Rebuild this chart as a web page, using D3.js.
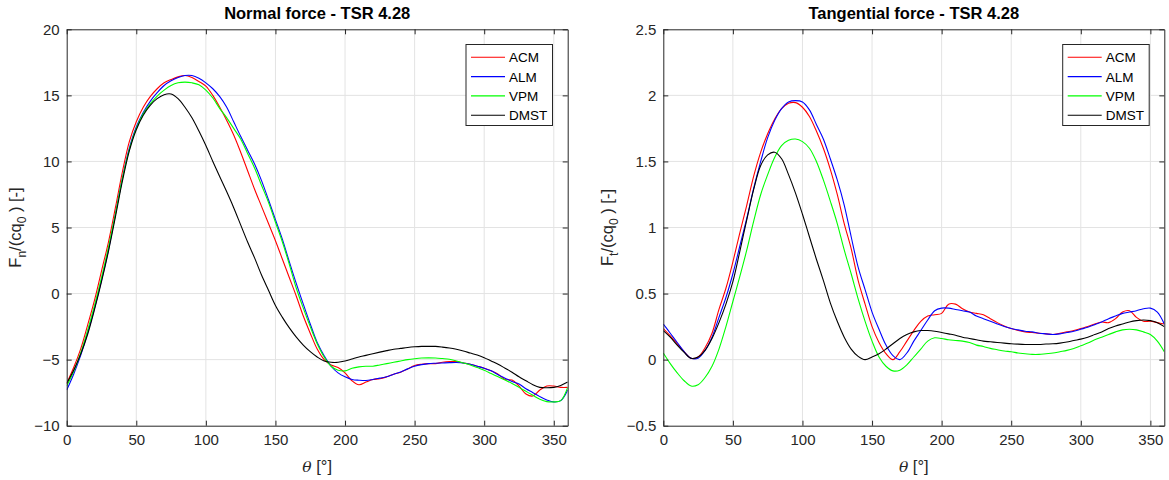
<!DOCTYPE html>
<html><head><meta charset="utf-8">
<script src="https://cdn.jsdelivr.net/npm/d3@7"></script>
<style>
body{margin:0;background:#fff;}
svg{display:block;font-family:"Liberation Sans",Arial,Helvetica,sans-serif;}
</style></head>
<body>
<svg id="chart" width="1169" height="480"></svg>
<script>
// ---- data ----
const theta = [0,5,10,15,20,25,30,35,40,45,50,55,60,65,70,75,80,85,90,95,100,105,110,115,120,125,130,135,140,145,150,155,160,165,170,175,180,185,190,195,200,205,210,215,220,225,230,235,240,245,250,255,260,265,270,275,280,285,290,295,300,305,310,315,320,325,330,335,340,345,350,355,360];
const seriesNames = ["ACM","ALM","VPM","DMST"];
const seriesColors = ["#ff0000","#0000ff","#00ff00","#000000"];

const normalACM = [-6.8,-5.6,-4.2,-2.4,-0.5,1.7,3.9,6.5,9.2,11.5,13.0,14.1,14.9,15.5,15.95,16.2,16.4,16.5,16.35,16.05,15.7,15.0,14.1,13.1,12.0,10.7,9.3,7.9,6.6,5.3,4.0,2.6,1.2,-0.2,-1.7,-3.0,-4.2,-5.0,-5.4,-5.6,-6.0,-6.6,-6.9,-6.7,-6.5,-6.45,-6.3,-6.1,-5.95,-5.7,-5.45,-5.35,-5.3,-5.3,-5.2,-5.15,-5.15,-5.25,-5.35,-5.5,-5.65,-5.85,-6.1,-6.5,-6.55,-7.0,-7.6,-7.75,-7.3,-7.0,-7.0,-7.1,-7.1];
const normalALM = [-7.3,-6.1,-4.7,-3.0,-1.1,1.0,3.3,6.0,8.7,11.0,12.6,13.7,14.55,15.2,15.75,16.1,16.35,16.5,16.5,16.3,15.95,15.5,14.9,14.1,13.0,11.9,10.85,9.8,8.55,7.1,5.6,4.1,2.4,0.75,-0.8,-2.3,-3.7,-4.7,-5.5,-6.0,-6.3,-6.5,-6.56,-6.58,-6.5,-6.4,-6.3,-6.1,-5.93,-5.7,-5.5,-5.38,-5.3,-5.27,-5.25,-5.23,-5.22,-5.25,-5.35,-5.5,-5.65,-5.85,-6.15,-6.4,-6.65,-6.85,-7.2,-7.5,-7.8,-8.05,-8.2,-8.1,-7.3];
const normalVPM = [-7.0,-5.9,-4.5,-2.8,-0.9,1.2,3.5,6.0,8.7,10.9,12.5,13.6,14.35,14.95,15.4,15.75,15.95,16.0,15.95,15.8,15.4,14.8,14.0,13.3,12.5,11.7,10.6,9.5,8.2,6.9,5.4,3.9,2.2,0.4,-1.1,-2.5,-3.8,-4.8,-5.5,-5.8,-5.85,-5.65,-5.55,-5.5,-5.5,-5.4,-5.3,-5.2,-5.1,-5.0,-4.93,-4.88,-4.87,-4.88,-4.92,-4.97,-5.1,-5.25,-5.4,-5.6,-5.8,-6.05,-6.3,-6.55,-6.8,-7.1,-7.4,-7.7,-8.0,-8.18,-8.2,-8.1,-7.1];
const normalDMST = [-6.8,-5.8,-4.6,-3.1,-1.2,0.9,3.2,5.8,8.5,10.8,12.4,13.5,14.25,14.75,15.05,15.1,14.75,14.1,13.3,12.3,11.2,10.0,8.84,7.7,6.5,5.2,3.9,2.7,1.4,0.25,-0.9,-1.8,-2.6,-3.3,-3.9,-4.4,-4.8,-5.1,-5.2,-5.2,-5.1,-4.95,-4.8,-4.68,-4.55,-4.43,-4.32,-4.22,-4.15,-4.08,-4.03,-4.0,-4.0,-4.0,-4.05,-4.12,-4.22,-4.35,-4.5,-4.65,-4.85,-5.1,-5.35,-5.65,-5.95,-6.3,-6.6,-6.9,-7.1,-7.13,-7.1,-6.95,-6.7];

const tangACM = [0.235,0.18,0.12,0.06,0.01,0.02,0.09,0.2,0.38,0.54,0.74,0.96,1.17,1.39,1.57,1.71,1.82,1.9,1.94,1.945,1.91,1.84,1.73,1.6,1.44,1.25,1.03,0.84,0.6,0.42,0.25,0.13,0.045,0.0,0.06,0.14,0.22,0.29,0.33,0.34,0.35,0.42,0.42,0.385,0.36,0.35,0.34,0.31,0.28,0.255,0.235,0.22,0.21,0.205,0.2,0.195,0.19,0.2,0.21,0.22,0.235,0.25,0.27,0.285,0.28,0.31,0.36,0.37,0.32,0.29,0.29,0.28,0.27];
const tangALM = [0.27,0.2,0.13,0.06,0.01,0.01,0.07,0.17,0.32,0.47,0.65,0.86,1.07,1.3,1.5,1.68,1.81,1.9,1.95,1.96,1.95,1.89,1.78,1.67,1.52,1.36,1.17,0.93,0.7,0.53,0.36,0.23,0.11,0.03,0.0,0.05,0.14,0.22,0.3,0.37,0.39,0.39,0.38,0.37,0.36,0.33,0.31,0.29,0.27,0.25,0.235,0.225,0.215,0.21,0.2,0.195,0.19,0.195,0.205,0.215,0.23,0.245,0.265,0.285,0.31,0.33,0.35,0.36,0.37,0.385,0.39,0.36,0.27];
const tangVPM = [0.05,-0.03,-0.1,-0.16,-0.2,-0.19,-0.135,-0.05,0.08,0.25,0.44,0.63,0.83,1.05,1.25,1.4,1.53,1.62,1.66,1.67,1.65,1.6,1.5,1.36,1.2,1.03,0.83,0.65,0.46,0.29,0.14,0.02,-0.05,-0.085,-0.08,-0.04,0.02,0.08,0.14,0.165,0.16,0.15,0.145,0.14,0.13,0.11,0.1,0.085,0.075,0.065,0.06,0.05,0.045,0.04,0.04,0.045,0.05,0.06,0.07,0.085,0.105,0.125,0.15,0.17,0.19,0.21,0.225,0.23,0.225,0.21,0.19,0.14,0.06];
const tangDMST = [0.22,0.17,0.11,0.055,0.01,0.02,0.07,0.16,0.28,0.42,0.59,0.82,1.06,1.29,1.47,1.55,1.57,1.52,1.4,1.26,1.1,0.93,0.76,0.6,0.43,0.29,0.17,0.08,0.025,0.0,0.02,0.045,0.08,0.12,0.16,0.19,0.21,0.22,0.22,0.215,0.205,0.195,0.185,0.17,0.16,0.15,0.14,0.135,0.13,0.125,0.12,0.117,0.115,0.115,0.115,0.118,0.12,0.125,0.133,0.145,0.155,0.17,0.19,0.21,0.235,0.255,0.27,0.285,0.295,0.3,0.295,0.28,0.25];

const xTicks = [0,50,100,150,200,250,300,350];
const yTicksNormal = [-10,-5,0,5,10,15,20];
const yTicksTang = [-0.5,0,0.5,1,1.5,2,2.5];

// ---- drawing ----
const svg = d3.select("#chart");
const txt = "#262626";

function drawPanel(opt){
  const {left, right, top, bottom, ydom, yTicks, series, title, ysub, legendX, ylabelX} = opt;
  const x = d3.scaleLinear().domain([0,360]).range([left,right]);
  const y = d3.scaleLinear().domain(ydom).range([bottom,top]);
  const g = svg.append("g");

  // grid
  g.append("g").selectAll("line").data(xTicks.filter(t=>t>0)).join("line")
    .attr("x1",d=>x(d)).attr("x2",d=>x(d)).attr("y1",top).attr("y2",bottom)
    .attr("stroke","#e3e3e3").attr("stroke-width",1);
  g.append("g").selectAll("line").data(yTicks.filter((t,i)=>i>0&&i<yTicks.length-1)).join("line")
    .attr("x1",left).attr("x2",right).attr("y1",d=>y(d)).attr("y2",d=>y(d))
    .attr("stroke","#e3e3e3").attr("stroke-width",1);

  // curves
  const line = d3.line().x((d,i)=>x(theta[i])).y(d=>y(d)).curve(d3.curveCatmullRom.alpha(0.5));
  const clipId = "clip"+Math.round(left);
  svg.append("clipPath").attr("id",clipId).append("rect")
    .attr("x",left).attr("y",top).attr("width",right-left).attr("height",bottom-top);
  const cg = g.append("g").attr("clip-path",`url(#${clipId})`);
  series.forEach((s,i)=>{
    cg.append("path").datum(s).attr("d",line).attr("fill","none")
      .attr("stroke",seriesColors[i]).attr("stroke-width",1.1);
  });

  // axes (box with ticks on all sides)
  const axB = d3.axisBottom(x).tickValues(xTicks).tickSizeInner(-5).tickSizeOuter(0).tickPadding(9);
  const axT = d3.axisTop(x).tickValues(xTicks).tickSizeInner(-5).tickSizeOuter(0).tickFormat("");
  const axL = d3.axisLeft(y).tickValues(yTicks).tickSizeInner(-5).tickSizeOuter(0).tickPadding(7).tickFormat(d3.format(""));
  const axR = d3.axisRight(y).tickValues(yTicks).tickSizeInner(-5).tickSizeOuter(0).tickFormat("");
  const style = sel => {
    sel.selectAll("path").attr("stroke",txt).attr("stroke-width",1);
    sel.selectAll("line").attr("stroke",txt).attr("stroke-width",1);
    sel.selectAll("text").attr("fill",txt).style("font-size","15px").style("font-family",'"Liberation Sans",Arial,sans-serif');
  };
  g.append("g").attr("transform",`translate(0,${bottom})`).call(axB).call(style);
  g.append("g").attr("transform",`translate(0,${top})`).call(axT).call(style);
  g.append("g").attr("transform",`translate(${left},0)`).call(axL).call(style);
  g.append("g").attr("transform",`translate(${right},0)`).call(axR).call(style);

  // title
  g.append("text").attr("x",(left+right)/2).attr("y",top-10).attr("text-anchor","middle")
    .attr("fill","#000").style("font-size","16.5px").style("font-weight","bold").text(title);

  // x label
  const xl = g.append("text").attr("x",(left+right)/2).attr("y",472).attr("text-anchor","middle")
    .attr("fill",txt).style("font-size","16.5px");
  xl.append("tspan").style("font-family",'"DejaVu Serif","Liberation Serif",serif').style("font-style","italic").style("font-size","15.5px").text("θ");
  xl.append("tspan").text(" [°]");

  // y label
  const yl = g.append("text").attr("transform",`translate(${ylabelX},${(top+bottom)/2}) rotate(-90)`)
    .attr("text-anchor","middle").attr("fill",txt).style("font-size","16.5px");
  yl.append("tspan").text("F");
  yl.append("tspan").attr("dy",5).style("font-size","12px").text(ysub);
  yl.append("tspan").attr("dy",-5).text("/(cq");
  yl.append("tspan").attr("dy",5).style("font-size","12px").text("0");
  yl.append("tspan").attr("dy",-5).text(" ) [-]");

  // legend
  const lg = g.append("g");
  lg.append("rect").attr("x",legendX).attr("y",44.5).attr("width",86.5).attr("height",81)
    .attr("fill","#fff").attr("stroke",txt).attr("stroke-width",1);
  seriesNames.forEach((n,i)=>{
    const yy = 57.3 + i*19.3;
    lg.append("line").attr("x1",legendX+5).attr("x2",legendX+39).attr("y1",yy).attr("y2",yy)
      .attr("stroke",seriesColors[i]).attr("stroke-width",1.1);
    lg.append("text").attr("x",legendX+43).attr("y",yy+5).attr("fill","#000")
      .style("font-size","13.5px").text(n);
  });
}

drawPanel({left:66.7,right:567.7,top:29.3,bottom:425.7,ydom:[-10,20],yTicks:yTicksNormal,
  series:[normalACM,normalALM,normalVPM,normalDMST],title:"Normal force - TSR 4.28",ysub:"n",
  legendX:466,ylabelX:21});
drawPanel({left:663.3,right:1164.3,top:29.3,bottom:425.7,ydom:[-0.5,2.5],yTicks:yTicksTang,
  series:[tangACM,tangALM,tangVPM,tangDMST],title:"Tangential force - TSR 4.28",ysub:"t",
  legendX:1062.7,ylabelX:613});
</script>
</body></html>
